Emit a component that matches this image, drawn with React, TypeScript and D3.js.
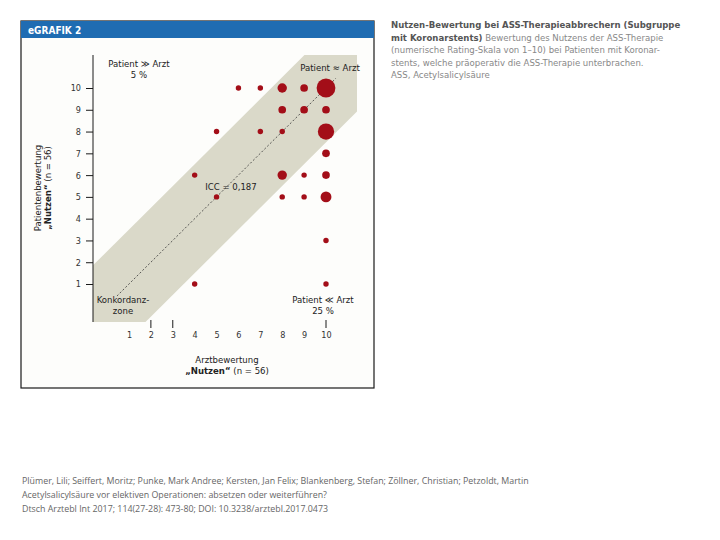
import { useEffect, useRef } from "react";
import * as d3 from "d3";

// rating scale 1..10 (both axes)
const ratings = [1, 2, 3, 4, 5, 6, 7, 8, 9, 10];
// ticks marked on the x axis (zone borders)
const xMarks = [2, 3, 10];

// bubbles: doctor rating, patient rating, number of patients
const arzt = [6, 7, 8, 9, 10, 8, 9, 10, 5, 7, 8, 10, 10, 4, 8, 9, 10, 5, 8, 9, 10, 10, 4, 10];
const patient = [10, 10, 10, 10, 10, 9, 9, 9, 8, 8, 8, 8, 7, 6, 6, 6, 6, 5, 5, 5, 5, 3, 1, 1];
const anzahl = [1, 1, 3, 2, 12, 2, 2, 2, 1, 1, 1, 9, 2, 1, 3, 1, 2, 1, 1, 1, 4, 1, 1, 1];

const bandHalfWidth = 2.5;
const diagFrom = 0.45;
const diagTo = 10.45;

const caption = [
  { t: "Nutzen-Bewertung bei ASS-Therapieabbrechern (Subgruppe", b: "" },
  { t: "mit Koronarstents)", b: " Bewertung des Nutzens der ASS-Therapie" },
  { t: "", b: "(numerische Rating-Skala von 1–10) bei Patienten mit Koronar-" },
  { t: "", b: "stents, welche präoperativ die ASS-Therapie unterbrachen." },
  { t: "", b: "ASS, Acetylsalicylsäure" },
];

const citation = [
  "Plümer, Lili; Seiffert, Moritz; Punke, Mark Andree; Kersten, Jan Felix; Blankenberg, Stefan; Zöllner, Christian; Petzoldt, Martin",
  "Acetylsalicylsäure vor elektiven Operationen: absetzen oder weiterführen?",
  "Dtsch Arztebl Int 2017; 114(27-28): 473-80; DOI: 10.3238/arztebl.2017.0473",
];

const FONT = "'Liberation Sans Narrow', 'DejaVu Sans Condensed', 'Liberation Sans', sans-serif";
const RED = "#a30e18";

export default function App() {
  const svgRef = useRef<SVGSVGElement | null>(null);
  const width = 720;
  const height = 540;

  useEffect(() => {
    const svg = d3.select(svgRef.current);
    svg.selectAll("*").remove();

    // plot box
    const plot = { left: 93, right: 357, top: 55, bottom: 322 };

    const x = d3.scaleLinear().domain([1, 10]).range([129, 326]);
    const y = d3.scaleLinear().domain([1, 10]).range([284, 88]);
    const r = d3.scaleSqrt().domain([0, 12]).range([0, 9.4]);

    // frame
    svg.append("rect").attr("x", 21).attr("y", 21).attr("width", 353).attr("height", 367)
      .attr("fill", "#fdfdfb").attr("stroke", "#1a1a1a").attr("stroke-width", 1.2);
    svg.append("rect").attr("x", 21).attr("y", 21).attr("width", 353).attr("height", 17)
      .attr("fill", "#1f6cb2");
    svg.append("text").attr("x", 28).attr("y", 33.5).text("eGRAFIK 2")
      .style("font-family", FONT).style("font-size", "10px").style("font-weight", "bold").style("fill", "#fff");

    // band clip
    svg.append("clipPath").attr("id", "plotclip").append("rect")
      .attr("x", plot.left).attr("y", plot.top)
      .attr("width", plot.right - plot.left).attr("height", plot.bottom - plot.top);

    const lo = -4, hi = 16;
    const band: [number, number][] = [
      [lo, lo + bandHalfWidth], [hi, hi + bandHalfWidth],
      [hi, hi - bandHalfWidth], [lo, lo - bandHalfWidth],
    ];
    svg.append("path")
      .attr("clip-path", "url(#plotclip)")
      .attr("d", d3.line<[number, number]>().x((d) => x(d[0])).y((d) => y(d[1]))(band) + "Z")
      .attr("fill", "#dad9c9");

    // diagonal
    svg.append("line")
      .attr("x1", x(diagFrom)).attr("y1", y(diagFrom))
      .attr("x2", x(diagTo)).attr("y2", y(diagTo))
      .attr("stroke", "#333").attr("stroke-width", 0.8).attr("stroke-dasharray", "2,2");

    // y axis line
    svg.append("line").attr("x1", plot.left).attr("x2", plot.left)
      .attr("y1", plot.top).attr("y2", plot.bottom)
      .attr("stroke", "#1a1a1a").attr("stroke-width", 1);

    const yAxis = svg.append("g").attr("transform", `translate(${plot.left},0)`)
      .call(d3.axisLeft(y).tickValues(ratings).tickSize(7).tickPadding(5).tickFormat(d3.format("d")));
    yAxis.select(".domain").remove();
    yAxis.selectAll("line").attr("stroke", "#1a1a1a");
    yAxis.selectAll("text").style("font-family", FONT).style("font-size", "9px").style("fill", "#333");

    const xAxis = svg.append("g").attr("transform", `translate(0,331)`)
      .call(d3.axisBottom(x).tickValues(ratings).tickSize(0).tickPadding(0).tickFormat(d3.format("d")));
    xAxis.select(".domain").remove();
    xAxis.selectAll("text").attr("dy", "0.75em").style("font-family", FONT).style("font-size", "9px").style("fill", "#333");

    svg.selectAll(".xmark").data(xMarks).join("line").attr("class", "xmark")
      .attr("x1", (d) => x(d)).attr("x2", (d) => x(d))
      .attr("y1", 320).attr("y2", 328)
      .attr("stroke", "#1a1a1a").attr("stroke-width", 1);

    // bubbles
    const pts = arzt.map((a, i) => ({ a, p: patient[i], n: anzahl[i] }));
    svg.selectAll(".dot").data(pts).join("circle").attr("class", "dot")
      .attr("cx", (d) => x(d.a)).attr("cy", (d) => y(d.p))
      .attr("r", (d) => r(d.n)).attr("fill", RED);

    // labels
    const label = (tx: number, ty: number, s: string, anchor = "middle", weight = "normal") =>
      svg.append("text").attr("x", tx).attr("y", ty).attr("text-anchor", anchor).text(s)
        .style("font-family", FONT).style("font-size", "9.5px").style("font-weight", weight).style("fill", "#222");

    label(139, 67, "Patient ≫ Arzt");
    label(139, 77.5, "5 %");
    label(330, 71, "Patient ≈ Arzt");
    label(231, 190, "ICC = 0,187");
    label(123, 303, "Konkordanz-");
    label(123, 314, "zone");
    label(323, 303, "Patient ≪ Arzt");
    label(323, 314, "25 %");

    // axis titles
    label(227, 362.5, "Arztbewertung");
    const t2 = label(227, 373.5, "");
    t2.append("tspan").style("font-weight", "bold").text("„Nutzen“");
    t2.append("tspan").text(" (n = 56)");

    const yt = svg.append("g").attr("transform", "translate(0,188) rotate(-90)");
    yt.append("text").attr("x", 0).attr("y", 41).attr("text-anchor", "middle").text("Patientenbewertung")
      .style("font-family", FONT).style("font-size", "9.5px").style("fill", "#222");
    const yt2 = yt.append("text").attr("x", 0).attr("y", 51).attr("text-anchor", "middle")
      .style("font-family", FONT).style("font-size", "9.5px").style("fill", "#222");
    yt2.append("tspan").style("font-weight", "bold").text("„Nutzen“");
    yt2.append("tspan").text(" (n = 56)");

    // caption on the right
    caption.forEach((c, i) => {
      const t = svg.append("text").attr("x", 391).attr("y", 28 + i * 12.6)
        .style("font-family", FONT).style("font-size", "9.5px");
      if (c.t) t.append("tspan").style("font-weight", "bold").style("fill", "#555").text(c.t);
      if (c.b) t.append("tspan").style("fill", "#888").text(c.b);
    });

    // citation
    citation.forEach((c, i) => {
      svg.append("text").attr("x", 22).attr("y", 484 + i * 14).text(c)
        .style("font-family", "'Open Sans', sans-serif").style("font-size", "8.85px").style("fill", "#666");
    });
  }, []);

  return (
    <svg
      ref={svgRef}
      width={width}
      height={height}
      style={{ position: "absolute", left: 0, top: 0, backgroundColor: "#ffffff" }}
    />
  );
}
